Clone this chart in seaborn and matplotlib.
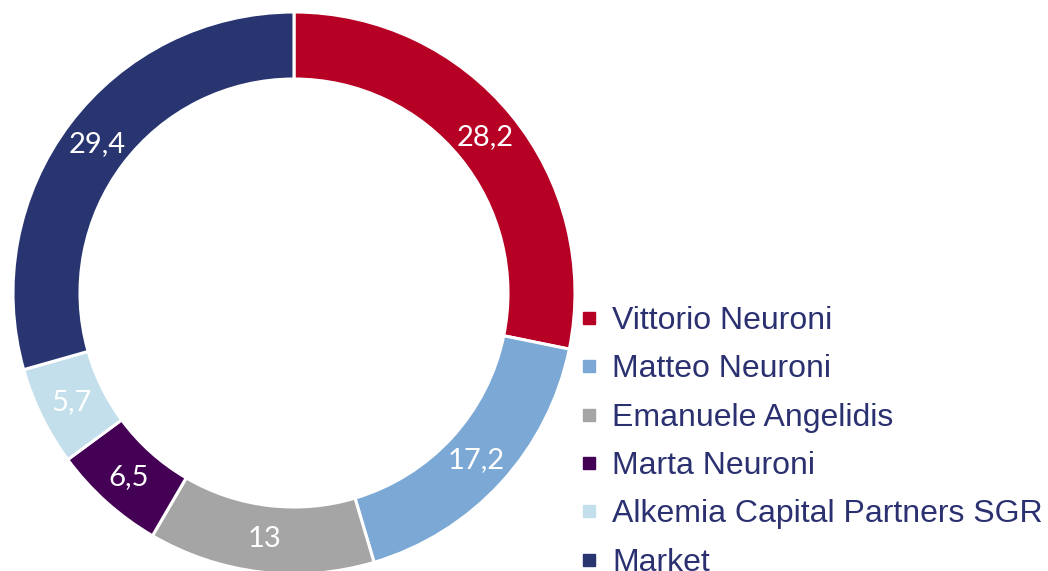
import matplotlib
matplotlib.use('Agg')
import matplotlib.pyplot as plt
from matplotlib.lines import Line2D
import seaborn as sns

sns.set_style('white')

names = ['Vittorio Neuroni', 'Matteo Neuroni', 'Emanuele Angelidis',
         'Marta Neuroni', 'Alkemia Capital Partners SGR', 'Market']
shares = [28.2, 17.2, 13, 6.5, 5.7, 29.4]
colors = ['#B60024', '#7BA8D5', '#A5A5A5', '#430054', '#C4DFEC', '#283571']


def fmt(p):
    s = f'{p:.1f}'
    if s.endswith('.0'):
        s = s[:-2]
    return s.replace('.', ',')


fig = plt.figure(figsize=(10.48, 5.71), dpi=100)
ax = fig.add_axes([0, 0, 1, 1])
ax.axis('off')

wedges, texts, autotexts = ax.pie(
    shares, colors=colors, startangle=90, counterclock=False,
    center=(294, 278), radius=281, autopct=fmt, pctdistance=0.88,
    wedgeprops=dict(width=67, edgecolor='white', linewidth=2.2),
    textprops=dict(color='white', fontsize=21, family=['Lato', 'DejaVu Sans']),
)
ax.set_xlim(0, 1048)
ax.set_ylim(0, 571)
ax.set_aspect('equal')

handles = [Line2D([], [], marker='s', linestyle='none', markersize=8,
                  markerfacecolor=c, markeredgecolor=c) for c in colors]
leg = fig.legend(handles, names, loc='upper left', bbox_to_anchor=(580 / 1048, 1 - 306 / 571),
                 frameon=False, handlelength=0.55, handletextpad=0.45, labelspacing=0.575,
                 borderpad=0, borderaxespad=0,
                 prop=dict(family='Liberation Sans', size=23))
for t in leg.get_texts():
    t.set_color('#2B3170')

fig.savefig('out.png', dpi=100)
